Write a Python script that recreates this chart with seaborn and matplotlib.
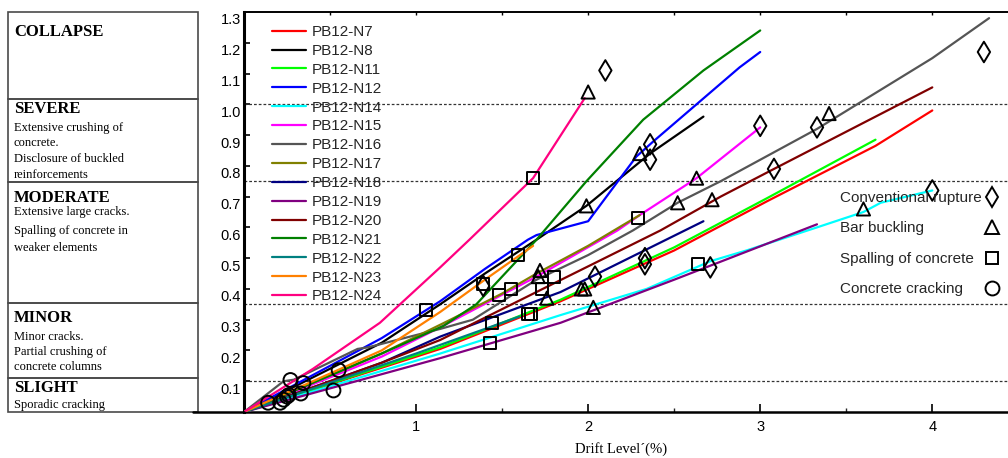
import numpy as np
import pandas as pd
import matplotlib
matplotlib.use("Agg")
import matplotlib.pyplot as plt
import seaborn as sns
from matplotlib.lines import Line2D
from matplotlib.patches import Rectangle
from matplotlib.transforms import ScaledTranslation

sns.set_theme(style="white")
plt.rcParams['font.family'] = ['Liberation Sans', 'DejaVu Sans']

# ---------------- data ----------------
specimens = ["PB12-N7", "PB12-N8", "PB12-N11", "PB12-N12", "PB12-N14", "PB12-N15",
             "PB12-N16", "PB12-N17", "PB12-N18", "PB12-N19", "PB12-N20", "PB12-N21",
             "PB12-N22", "PB12-N23", "PB12-N24"]
colors = ["#ff0000", "#000000", "#00ff00", "#0000ff", "#00ffff", "#ff00ff",
          "#555555", "#808000", "#000080", "#800080", "#800000", "#008000",
          "#008080", "#ff8000", "#ff0080"]

x_N7 = [0, 1.14, 1.84, 2.5, 3.04, 3.67, 4.0]
y_N7 = [0, 0.205, 0.36, 0.525, 0.685, 0.865, 0.98]
x_N8 = [0, 0.8, 1.14, 1.4, 1.7, 1.99, 2.36, 2.67]
y_N8 = [0, 0.225, 0.35, 0.45, 0.56, 0.67, 0.84, 0.96]
x_N11 = [0, 1.14, 1.84, 2.5, 3.04, 3.67]
y_N11 = [0, 0.21, 0.365, 0.535, 0.695, 0.885]
x_N12 = [0, 0.8, 1.14, 1.4, 1.65, 1.70, 2.0, 2.28, 2.38, 2.88, 3.0]
y_N12 = [0, 0.24, 0.36, 0.465, 0.56, 0.575, 0.62, 0.83, 0.88, 1.12, 1.17]
x_N14 = [0, 1.14, 1.84, 2.34, 2.71, 2.92, 3.33, 3.6, 3.7, 4.0]
y_N14 = [0, 0.19, 0.315, 0.40, 0.49, 0.525, 0.60, 0.65, 0.68, 0.72]
x_N15 = [0, 0.8, 1.14, 1.7, 2.17, 2.3, 2.63, 3.0]
y_N15 = [0, 0.18, 0.275, 0.44, 0.59, 0.64, 0.76, 0.925]
x_N16 = [0, 0.23, 0.29, 0.66, 0.72, 1.14, 1.33, 1.70, 2.0, 2.26, 2.52, 2.77, 3.33, 4.0, 4.33]
y_N16 = [0, 0.10, 0.105, 0.205, 0.21, 0.27, 0.30, 0.43, 0.51, 0.59, 0.68, 0.75, 0.92, 1.15, 1.28]
x_N17 = [0, 0.8, 1.2, 1.5, 1.7, 2.0, 2.3]
y_N17 = [0, 0.19, 0.30, 0.385, 0.45, 0.54, 0.64]
x_N18 = [0, 0.8, 1.14, 1.84, 2.67]
y_N18 = [0, 0.16, 0.245, 0.39, 0.62]
x_N19 = [0, 1.14, 1.84, 2.5, 3.33]
y_N19 = [0, 0.175, 0.29, 0.43, 0.61]
x_N20 = [0, 0.8, 1.14, 1.7, 2.42, 2.77, 3.08, 4.0]
y_N20 = [0, 0.16, 0.234, 0.39, 0.59, 0.70, 0.79, 1.055]
x_N21 = [0, 0.8, 1.16, 1.35, 1.7, 1.99, 2.32, 2.67, 3.0]
y_N21 = [0, 0.19, 0.28, 0.35, 0.56, 0.75, 0.95, 1.11, 1.24]
x_N22 = [0, 1.0, 1.6]
y_N22 = [0, 0.19, 0.31]
x_N23 = [0, 0.8, 1.14, 1.4, 1.68]
y_N23 = [0, 0.2, 0.325, 0.43, 0.54]
x_N24 = [0, 0.4, 0.79, 1.14, 1.31, 1.68, 1.98]
y_N24 = [0, 0.14, 0.29, 0.47, 0.56, 0.76, 1.02]

series_x = [x_N7, x_N8, x_N11, x_N12, x_N14, x_N15, x_N16, x_N17, x_N18, x_N19,
            x_N20, x_N21, x_N22, x_N23, x_N24]
series_y = [y_N7, y_N8, y_N11, y_N12, y_N14, y_N15, y_N16, y_N17, y_N18, y_N19,
            y_N20, y_N21, y_N22, y_N23, y_N24]

rupture_x = [2.10, 2.36, 2.36, 3.00, 3.33, 3.08, 4.30, 4.00, 2.04, 2.33, 2.33, 2.71, 1.39]
rupture_y = [1.11, 0.87, 0.82, 0.93, 0.925, 0.79, 1.17, 0.72, 0.44, 0.48, 0.50, 0.47, 0.41]
buckling_x = [2.00, 1.99, 2.30, 2.63, 2.52, 2.72, 3.40, 3.60, 1.72, 1.71, 1.76, 1.96, 1.98, 2.03]
buckling_y = [1.04, 0.67, 0.84, 0.76, 0.68, 0.69, 0.97, 0.66, 0.46, 0.44, 0.37, 0.40, 0.40, 0.34]
spalling_x = [1.68, 1.59, 1.39, 1.06, 2.29, 1.48, 1.55, 1.73, 1.80, 1.44, 1.65, 1.67, 1.43, 2.64]
spalling_y = [0.76, 0.51, 0.415, 0.33, 0.63, 0.38, 0.40, 0.40, 0.44, 0.29, 0.32, 0.32, 0.224, 0.48]
cracking_x = [0.14, 0.21, 0.23, 0.25, 0.26, 0.27, 0.33, 0.345, 0.52, 0.55]
cracking_y = [0.03, 0.03, 0.04, 0.05, 0.055, 0.104, 0.06, 0.094, 0.07, 0.136]

event_labels = ["Conventional rupture", "Bar buckling", "Spalling of concrete", "Concrete cracking"]
event_markers = ["d", "^", "s", "o"]
event_sizes = [10.5, 9.5, 8.6, 10]

damage_levels = [0.1, 0.35, 0.75, 1.0]
state_bounds = [0.0, 0.11, 0.354, 0.747, 1.016, 1.3]
x_ticks = [1, 2, 3, 4]
x_tick_labels = ["1", "2", "3", "4"]
y_ticks = [0.1, 0.2, 0.3, 0.4, 0.5, 0.6, 0.7, 0.8, 0.9, 1.0, 1.1, 1.2, 1.3]
y_tick_labels = ["0.1", "0.2", "0.3", "0.4", "0.5", "0.6", "0.7", "0.8", "0.9", "1.0", "1.1", "1.2", "1.3"]

# ---------------- figure ----------------
W, H = 1008, 458
fig = plt.figure(figsize=(W / 100, H / 100), dpi=100)
ax = fig.add_axes([244 / W, 46 / H, 764 / W, 400 / H])

rows = []
for name, xs, ys in zip(specimens, series_x, series_y):
    for i, (xv, yv) in enumerate(zip(xs, ys)):
        rows.append({"specimen": name, "order": i, "drift": xv, "ratio": yv})
df = pd.DataFrame(rows)
palette = dict(zip(specimens, colors))

for lvl in damage_levels:
    ax.axhline(lvl, color="#333333", ls=(0, (2.2, 1.6)), lw=0.9, zorder=1)

sns.lineplot(data=df, x="drift", y="ratio", hue="specimen", hue_order=specimens,
             palette=palette, sort=False, estimator=None, lw=1.6, legend=False,
             ax=ax, zorder=3)

mk = dict(facecolor="none", edgecolor="black", linewidth=1.4, zorder=5, ax=ax, legend=False)
sns.scatterplot(x=rupture_x, y=rupture_y, marker=event_markers[0], s=event_sizes[0] ** 2, **mk)
sns.scatterplot(x=buckling_x, y=buckling_y, marker=event_markers[1], s=event_sizes[1] ** 2, **mk)
sns.scatterplot(x=spalling_x, y=spalling_y, marker=event_markers[2], s=event_sizes[2] ** 2, **mk)
sns.scatterplot(x=cracking_x, y=cracking_y, marker=event_markers[3], s=event_sizes[3] ** 2, **mk)

ax.set_xlim(0, 4.44)
ax.set_ylim(0, 1.3)
ax.set_xticks(x_ticks)
ax.set_xticklabels(x_tick_labels)
ax.set_xticks([0.5, 1.5, 2.5, 3.5], minor=True)
ax.set_yticks(y_ticks)
ax.set_yticklabels(y_tick_labels)
ax.tick_params(axis="x", which="major", direction="in", length=6, width=1.2,
               pad=6, labelsize=10.5, colors="black", bottom=True)
ax.tick_params(axis="x", which="minor", direction="in", length=3, width=1.0, bottom=True)
ax.tick_params(axis="y", which="major", direction="in", length=4, width=1.2,
               pad=2, labelsize=10.5, colors="black", left=True)
for lab in ax.get_yticklabels():
    lab.set_transform(lab.get_transform() + ScaledTranslation(0, -0.07, fig.dpi_scale_trans))

secax = ax.secondary_xaxis("top")
secax.set_xticks(np.arange(0.5, 4.5, 0.5))
secax.set_xticklabels([])
secax.tick_params(direction="in", length=2.5, width=1.0, colors="black")
secax.spines["top"].set_linewidth(1.2)
secax.spines["top"].set_color("black")

ax.spines["left"].set_linewidth(2.2)
ax.spines["bottom"].set_linewidth(1.8)
ax.spines["top"].set_linewidth(1.2)
for s in ["left", "bottom", "top"]:
    ax.spines[s].set_color("black")
ax.spines["right"].set_visible(False)

ax.set_xlabel("Drift Level\u00b4(%)", fontfamily="Liberation Serif", fontsize=10.5, color="black")
ax.xaxis.set_label_coords((621 - 244) / 764, (412 - 442) / 400)
ax.set_ylabel("")

# specimen legend
line_handles = [Line2D([], [], color=c, lw=1.6) for c in colors]
leg1 = ax.legend(line_handles, specimens, loc="upper left",
                 bbox_to_anchor=(272 / W, 1 - 25 / H), bbox_transform=fig.transFigure,
                 frameon=False, fontsize=11, handlelength=2.25, handletextpad=0.35,
                 labelspacing=0.32, borderpad=0, borderaxespad=0)
ax.add_artist(leg1)

# event legend: labels (left aligned) and markers (right column)
blank = [Line2D([], [], ls="none") for _ in event_labels]
leg2 = ax.legend(blank, event_labels, loc="upper left",
                 bbox_to_anchor=(840 / W, 1 - 191 / H), bbox_transform=fig.transFigure,
                 frameon=False, fontsize=11, handlelength=0, handletextpad=0,
                 labelspacing=1.08, borderpad=0, borderaxespad=0)
ax.add_artist(leg2)
ev_handles = [Line2D([], [], ls="none", marker=m, markersize=ms, mfc="none", mec="black", mew=1.4)
              for m, ms in zip(event_markers, event_sizes)]
leg3 = ax.legend(ev_handles, [" "] * len(event_labels), loc="upper left",
                 bbox_to_anchor=(986 / W, 1 - 191 / H), bbox_transform=fig.transFigure,
                 frameon=False, fontsize=11, handlelength=0.8, handletextpad=0,
                 labelspacing=1.08, borderpad=0, borderaxespad=0)

# ---------------- damage-state panel ----------------
lax = fig.add_axes([8 / W, 46 / H, 190 / W, 400 / H])
lax.set_xlim(0, 1)
lax.set_ylim(0, 1.3)
lax.axis("off")
for lo, hi in zip(state_bounds[:-1], state_bounds[1:]):
    lax.add_patch(Rectangle((0, lo), 1, hi - lo, fill=False, ec="#4a4a4a", lw=1.2, clip_on=False))

serif = ["Liberation Serif", "DejaVu Serif"]
titles = [("COLLAPSE", 32.5), ("SEVERE", 109), ("MODERATE", 198.5), ("MINOR", 317.5), ("SLIGHT", 387.5)]
for t, yp in titles:
    fig.text(14 / W, 1 - yp / H, t, fontfamily=serif, fontweight="bold", fontsize=12,
             va="center", ha="left", color="black")
desc = [("Extensive crushing of", 128), ("concrete.", 143), ("Disclosure of buckled", 159),
        ("reinforcements", 175), ("Extensive large cracks.", 212), ("Spalling of concrete in", 231),
        ("weaker elements", 248), ("Minor cracks.", 337), ("Partial crushing of", 352),
        ("concrete columns", 367), ("Sporadic cracking", 405)]
for t, yp in desc:
    fig.text(14 / W, 1 - yp / H, t, fontfamily=serif, fontsize=9, va="center", ha="left",
             color="black")

fig.add_artist(Line2D([193 / W, 244 / W], [1 - 411.5 / H] * 2, color="black", lw=1.8))

fig.savefig("out.png", dpi=100)
